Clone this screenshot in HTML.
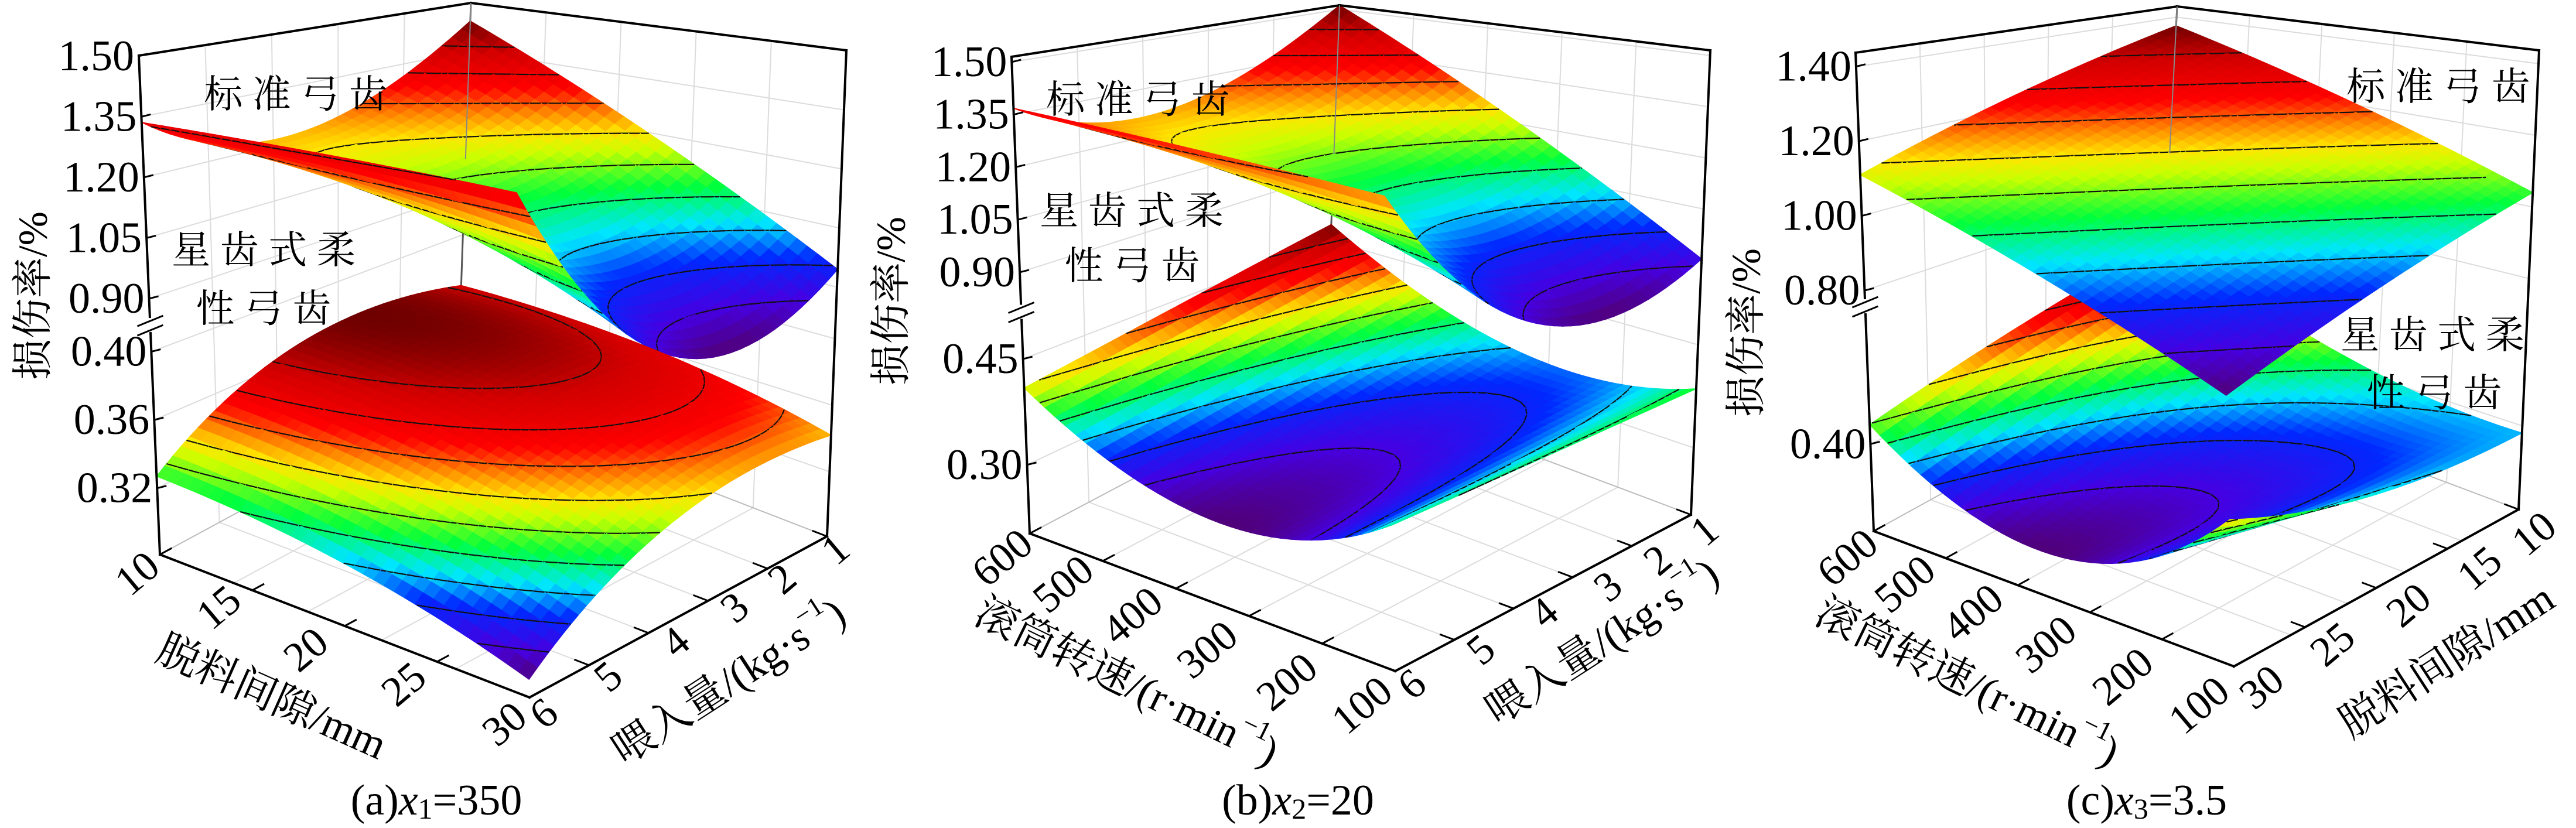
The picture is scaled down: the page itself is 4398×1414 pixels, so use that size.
<!DOCTYPE html>
<html><head><meta charset="utf-8"><style>
html,body{margin:0;padding:0;background:#fff;}
svg{display:block;}
</style></head><body>
<svg id="fig" width="4398" height="1414" viewBox="0 0 4398 1414" xmlns="http://www.w3.org/2000/svg" font-family="'Liberation Serif','Noto Serif CJK SC','Noto Sans CJK SC',serif">
<g id="bg"><rect width="4398" height="1414" fill="#fff"/></g>
</svg>
<script>
// ---- data: surface grids (rows: near-axis end .. far; cols: left-axis start .. end) ----
const gridA_standard = [[1.336,1.33,1.315],[1.22,1.08,0.86],[1.444,1.19,0.945]];
const gridA_star = [[0.327,0.315,0.29],[0.37,0.36,0.335],[0.362,0.36,0.342]];
const gridB_standard = [[1.368,1.33,1.29],[1.27,1.10,0.86],[1.515,1.20,0.904]];
const gridB_star = [[0.409,0.31,0.376],[0.44,0.33,0.38],[0.48,0.36,0.386]];
const gridC_standard = [[1.11,0.94,0.765],[1.24,1.07,0.90],[1.37,1.205,1.04]];
const gridC_star = [[0.429,0.33,0.454],[0.48,0.36,0.40],[0.53,0.42,0.389]];
const ticksA_z_upper = ["0.90","1.05","1.20","1.35","1.50"];
const ticksA_z_lower = ["0.32","0.36","0.40"];
const ticksB_z_upper = ["0.90","1.05","1.20","1.35","1.50"];
const ticksB_z_lower = ["0.30","0.45"];
const ticksC_z_upper = ["0.80","1.00","1.20","1.40"];
const ticksC_z_lower = ["0.40"];
const ticksA_left = ["10","15","20","25","30"];
const ticksA_right = ["6","5","4","3","2","1"];
const ticksB_left = ["600","500","400","300","200","100"];
const ticksB_right = ["6","5","4","3","2","1"];
const ticksC_left = ["600","500","400","300","200","100"];
const ticksC_right = ["30","25","20","15","10"];

const NS="http://www.w3.org/2000/svg";
const FONT="'Liberation Serif','Noto Serif CJK SC','Noto Sans CJK SC',serif";
const svg=document.getElementById('fig');
function el(tag,attrs,parent){const e=document.createElementNS(NS,tag);for(const k in attrs)e.setAttribute(k,attrs[k]);(parent||svg).appendChild(e);return e;}

const stops=[[0,[80,0,120]],[0.1,[70,0,225]],[0.22,[0,40,255]],[0.32,[0,230,255]],[0.43,[0,255,60]],[0.54,[200,255,0]],[0.6,[255,230,0]],[0.67,[255,130,0]],[0.75,[255,0,0]],[0.88,[210,0,0]],[1,[110,0,0]]];
function cmap(t){t=Math.max(0,Math.min(1,t));for(let i=1;i<stops.length;i++){if(t<=stops[i][0]){const a=stops[i-1],b=stops[i];const f=(t-a[0])/(b[0]-a[0]);const c=a[1].map((x,j)=>Math.round(x+(b[1][j]-x)*f));return `rgb(${c[0]},${c[1]},${c[2]})`;}}return 'rgb(110,0,0)';}
function lag(t){return [2*(t-0.5)*(t-1),-4*t*(t-1),2*t*(t-0.5)];}
function interp(g,u,v){const wu=lag(u),wv=lag(v);let s=0;for(let i=0;i<3;i++)for(let j=0;j<3;j++)s+=wv[i]*wu[j]*g[i][j];return s;}

function makePanel(P){
  const G=el('g',{});
  
  
  function bil(c,u,v){return [c.L[0]*(1-u)*(1-v)+c.F[0]*u*(1-v)+c.R[0]*u*v+c.K[0]*(1-u)*v, c.L[1]*(1-u)*(1-v)+c.F[1]*u*(1-v)+c.R[1]*u*v+c.K[1]*(1-u)*v];}
  function proj(u,v,fr){const b=bil(P.bot,u,v),t=bil(P.top,u,v);return [b[0]+(t[0]-b[0])*fr,b[1]+(t[1]-b[1])*fr];}
  function zfrac(z){return z>=0.7?P.up0+(z-P.upZ)*P.upS:P.lo0+(z-P.loZ)*P.loS;}
  const W=el('g',{},G);
  
  
  const gl=(a,b,w,c)=>el('line',{x1:a[0],y1:a[1],x2:b[0],y2:b[1],stroke:c||'#dcdcdc','stroke-width':w||2},W);
  const allZ=P.zt.map(Number);
  allZ.forEach(z=>{const f=zfrac(z);gl(proj(0,0,f),proj(0,1,f));gl(proj(0,1,f),proj(1,1,f));});
  for(let i=1;i<5;i++){const s=i/5;gl(proj(s,1,0),proj(s,1,1));gl(proj(0,s,0),proj(0,s,1));gl(proj(s,0,0),proj(s,1,0));gl(proj(0,s,0),proj(1,s,0));}
  gl(proj(0,0,0),proj(0,1,0),2,'#bbb');gl(proj(0,1,0),proj(1,1,0),2,'#bbb');
  gl(proj(0,1,0),proj(0,1,1),3,'#555');
  function drawSurface(g,nm){
    const S=el('g',{},G);
    
    
    const N=36;const Z=[];let mn=1e9,mx=-1e9;
    for(let i=0;i<=N;i++){Z.push([]);for(let j=0;j<=N;j++){const z=interp(g,j/N,i/N);Z[i].push(z);mn=Math.min(mn,z);mx=Math.max(mx,z);}}
    const levels=[];for(let k=1;k<10;k++)levels.push(mn+(mx-mn)*k/10);
    const cells=[];
    for(let i=0;i<N;i++)for(let j=0;j<N;j++)cells.push([i,j]);
    cells.sort((a,b)=>(a[1]-a[0])-(b[1]-b[0]));
    const pt=(i,j)=>proj(j/N,i/N,zfrac(Z[i][j]));
    cells.forEach(([i,j])=>{
      const zs=[Z[i][j],Z[i][j+1],Z[i+1][j+1],Z[i+1][j]];
      const zc=(zs[0]+zs[1]+zs[2]+zs[3])/4;
      const col=cmap((zc-mn)/(mx-mn));
      const ps=[pt(i,j),pt(i,j+1),pt(i+1,j+1),pt(i+1,j)];
      el('polygon',{points:ps.map(p=>p[0].toFixed(1)+','+p[1].toFixed(1)).join(' '),fill:col,stroke:col,'stroke-width':1.5},S);
      const uv=[[j,i],[j+1,i],[j+1,i+1],[j,i+1]];
      levels.forEach(L=>{const cr=[];for(let e=0;e<4;e++){const a=zs[e],b=zs[(e+1)%4];if((a-L)*(b-L)<0){const f=(L-a)/(b-a);const A=uv[e],B=uv[(e+1)%4];const uu=(A[0]+(B[0]-A[0])*f)/N,vv=(A[1]+(B[1]-A[1])*f)/N;cr.push(proj(uu,vv,zfrac(L)));}}
        for(let k=0;k+1<cr.length;k+=2){el('line',{x1:cr[k][0].toFixed(1),y1:cr[k][1].toFixed(1),x2:cr[k+1][0].toFixed(1),y2:cr[k+1][1].toFixed(1),stroke:'#111','stroke-width':2.2},S);}});
    });
  }
  if(P.lowerFirst){drawSurface(P.lower,'star-tooth-surface');drawSurface(P.upper,'standard-tooth-surface');}
  else{drawSurface(P.upper,'standard-tooth-surface');drawSurface(P.lower,'star-tooth-surface');}
  const A=el('g',{},G);
  
  
  const al=(a,b)=>el('line',{x1:a[0],y1:a[1],x2:b[0],y2:b[1],stroke:'#000','stroke-width':4,'stroke-linecap':'square'},A);
  al(proj(0,0,0),proj(0,0,1));al(proj(1,1,0),proj(1,1,1));al(proj(0,0,1),proj(0,1,1));al(proj(0,1,1),proj(1,1,1));
  el('line',{x1:proj(0,1,1)[0],y1:proj(0,1,1)[1],x2:proj(0,1,0.6)[0],y2:proj(0,1,0.6)[1],stroke:'#888','stroke-width':2},A);
  al(proj(0,0,0),proj(1,0,0));al(proj(1,0,0),proj(1,1,0));
  const bf=P.brk;const bp=proj(0,0,bf);
  el('rect',{x:bp[0]-6,y:bp[1]-12,width:14,height:24,fill:'#fff'},A);
  el('line',{x1:bp[0]-22,y1:bp[1]+2,x2:bp[0]+22,y2:bp[1]-16,stroke:'#000','stroke-width':3},A);
  el('line',{x1:bp[0]-22,y1:bp[1]+18,x2:bp[0]+22,y2:bp[1],stroke:'#000','stroke-width':3},A);
  P.zt.forEach(s=>{const z=Number(s);const p=proj(0,0,zfrac(z));
    el('line',{x1:p[0],y1:p[1],x2:p[0]+16,y2:p[1]-4,stroke:'#000','stroke-width':3},A);
    const t=el('text',{x:p[0]-8,y:p[1]+24,'font-size':74,'text-anchor':'end','font-family':FONT},G);
    
    
    t.textContent=s;});
  P.lt.forEach((s,k)=>{const u=k/(P.lt.length-1);const p=proj(u,0,0);const q=proj(u,0.04,0);
    el('line',{x1:p[0],y1:p[1],x2:q[0],y2:q[1],stroke:'#000','stroke-width':3},A);
    const pos=P.ltPos[k];
    const t=el('text',{x:0,y:0,'font-size':72,'text-anchor':'middle','font-family':FONT,transform:`translate(${pos[0]},${pos[1]}) rotate(-40)`,'dominant-baseline':'central'},G);
    
    
    t.textContent=s;});
  P.rt.forEach((s,k)=>{const v=k/(P.rt.length-1);const p=proj(1,v,0);const q=proj(0.96,v,0);
    el('line',{x1:p[0],y1:p[1],x2:q[0],y2:q[1],stroke:'#000','stroke-width':3},A);
    const pos=P.rtPos[k];
    const t=el('text',{x:0,y:0,'font-size':72,'text-anchor':'middle','font-family':FONT,transform:`translate(${pos[0]},${pos[1]}) rotate(-40)`,'dominant-baseline':'central'},G);
    
    
    t.textContent=s;});
  return G;
}

const panels=[
 {name:'panel-a',upper:gridA_standard,lower:gridA_star,lowerFirst:false,
  bot:{L:[273,947],F:[904,1191],R:[1412,916],K:[781,672]},top:{L:[237,95],F:[878,176],R:[1445,86],K:[804,5]},
  up0:0.513,upZ:0.9,upS:0.81,lo0:0.133,loZ:0.32,loS:3.42,brk:0.46,
  zt:ticksA_z_lower.concat(ticksA_z_upper),lt:ticksA_left,rt:ticksA_right,
  ltPos:[[234,979],[373,1037],[522,1109],[689,1168],[861,1236]],
  rtPos:[[928,1218],[1038,1155],[1153,1096],[1254,1037],[1335,988],[1426,938]]},
 {name:'panel-b',upper:gridB_standard,lower:gridB_star,lowerFirst:false,
  bot:{L:[1758,911],F:[2382,1146],R:[2887,879],K:[2263,644]},top:{L:[1727,97],F:[2360,174],R:[2920,86],K:[2287,9]},
  up0:0.548,upZ:0.9,upS:0.735,lo0:0.144,loZ:0.3,loS:1.48,brk:0.465,
  zt:ticksB_z_lower.concat(ticksB_z_upper),lt:ticksB_left,rt:ticksB_right,
  ltPos:[[1711,952],[1815,997],[1933,1051],[2061,1109],[2197,1164],[2325,1204]],
  rtPos:[[2410,1168],[2528,1109],[2636,1046],[2745,1001],[2830,956],[2910,906]]},
 {name:'panel-c',upper:gridC_standard,lower:gridC_star,lowerFirst:true,
  bot:{L:[3199,907],F:[3814,1138],R:[4300,870],K:[3685,639]},top:{L:[3168,90],F:[3786,165],R:[4335,86],K:[3717,11]},
  up0:0.503,upZ:0.8,upS:0.78,lo0:0.182,loZ:0.4,loS:1.4,brk:0.47,
  zt:ticksC_z_lower.concat(ticksC_z_upper),lt:ticksC_left,rt:ticksC_right,
  ltPos:[[3154,952],[3252,997],[3368,1046],[3493,1100],[3624,1155],[3754,1204]],
  rtPos:[[3861,1173],[3982,1100],[4112,1033],[4233,970],[4326,911]]}
];
panels.forEach(makePanel);

function label(name,x,y,size,str,rot,anchor){
  const t=el('text',{x:0,y:0,'font-size':size,'font-family':FONT,'text-anchor':anchor||'middle','dominant-baseline':'central',transform:`translate(${x},${y}) rotate(${rot||0})`});
  
  
  t.innerHTML=str;return t;}
label('y-axis-title',57,505,70,'损伤率/%',-90);
label('y-axis-title',1522,514,70,'损伤率/%',-90);
label('y-axis-title',2982,568,70,'损伤率/%',-90);
label('standard-tooth-label',505,162,66,'标 准 弓 齿');
label('star-tooth-label',450,428,66,'星 齿 式 柔');
label('star-tooth-label',450,528,66,'性 弓 齿');
label('standard-tooth-label',1943,171,66,'标 准 弓 齿');
label('star-tooth-label',1932,361,66,'星 齿 式 柔');
label('star-tooth-label',1933,455,66,'性 弓 齿');
label('standard-tooth-label',4163,149,66,'标 准 弓 齿');
label('star-tooth-label',4153,573,66,'星 齿 式 柔');
label('star-tooth-label',4156,672,66,'性 弓 齿');
label('x-axis-title',464,1190,72,'脱料间隙/mm',24);
label('feed-axis-title',1244,1164,72,'喂入量/(kg·s<tspan dy="-28" font-size="46">−1</tspan><tspan dy="28">)</tspan>',-33);
label('x-axis-title',1924,1164,72,'滚筒转速/(r·min<tspan dy="-28" font-size="46">−1</tspan><tspan dy="28">)</tspan>',26);
label('feed-axis-title',2735,1096,72,'喂入量/(kg·s<tspan dy="-28" font-size="46">−1</tspan><tspan dy="28">)</tspan>',-33);
label('x-axis-title',3359,1164,72,'滚筒转速/(r·min<tspan dy="-28" font-size="46">−1</tspan><tspan dy="28">)</tspan>',26);
label('gap-axis-title',4177,1128,72,'脱料间隙/mm',-33);
label('caption-a',745,1367,74,'(a)<tspan font-style="italic">x</tspan><tspan font-size="50" dy="14">1</tspan><tspan dy="-14">=350</tspan>');
label('caption-b',2216,1367,74,'(b)<tspan font-style="italic">x</tspan><tspan font-size="50" dy="14">2</tspan><tspan dy="-14">=20</tspan>');
label('caption-c',3665,1367,74,'(c)<tspan font-style="italic">x</tspan><tspan font-size="50" dy="14">3</tspan><tspan dy="-14">=3.5</tspan>');
</script>
</body></html>
